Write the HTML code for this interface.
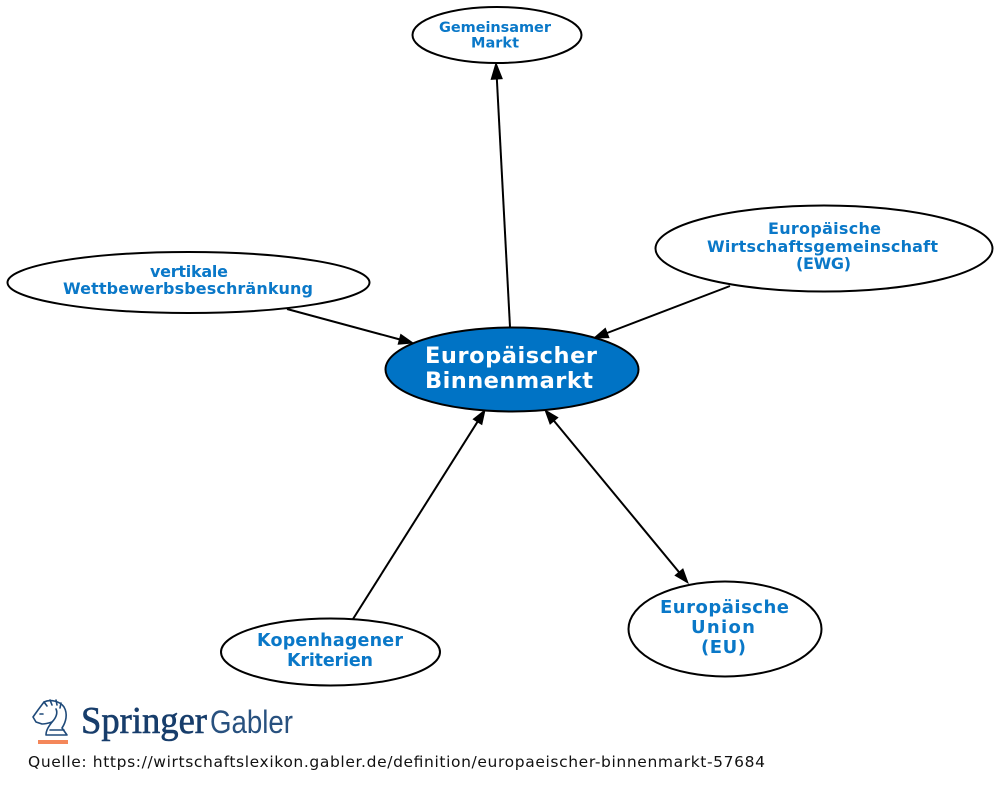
<!DOCTYPE html>
<html>
<head>
<meta charset="utf-8">
<style>
html,body{margin:0;padding:0;background:#fff;}
svg{display:block;}
.n{font-family:"DejaVu Sans","Liberation Sans",sans-serif;font-weight:bold;fill:#0a78c8;text-anchor:middle;}
</style>
</head>
<body>
<svg width="1000" height="791" viewBox="0 0 1000 791" xmlns="http://www.w3.org/2000/svg">
<rect width="1000" height="791" fill="#fff"/>

<!-- edges -->
<g stroke="#000" stroke-width="2" fill="none">
  <line x1="510" y1="327" x2="496.8" y2="78"/>
  <line x1="730" y1="286" x2="607.1" y2="333"/>
  <line x1="287" y1="309" x2="399.5" y2="339.4"/>
  <line x1="353" y1="619" x2="477.5" y2="421.8"/>
  <line x1="553.9" y1="420.8" x2="679.1" y2="572.2"/>
</g>
<g fill="#000" stroke="#000" stroke-width="1">
  <polygon points="496,63 502.2,78.7 491.2,79.3"/>
  <polygon points="594,338 605.3,328.3 608.9,337.7"/>
  <polygon points="413,343 398.2,344.2 400.8,334.5"/>
  <polygon points="485,410 481.8,424.5 473.3,419.2"/>
  <polygon points="688,583 675.2,575.4 682.9,569.0"/>
  <polygon points="545,410 550.1,424.0 557.8,417.6"/>
</g>

<!-- nodes -->
<g stroke="#000" stroke-width="2">
  <ellipse cx="497" cy="35" rx="84.5" ry="28" fill="#fff"/>
  <ellipse cx="824" cy="248.5" rx="168.5" ry="43" fill="#fff"/>
  <ellipse cx="188.5" cy="282.5" rx="181" ry="30.5" fill="#fff"/>
  <ellipse cx="512" cy="369.5" rx="126.5" ry="42" fill="#0073c5"/>
  <ellipse cx="725" cy="629" rx="96.5" ry="47.5" fill="#fff"/>
  <ellipse cx="330.5" cy="652" rx="109.5" ry="33.5" fill="#fff"/>
</g>

<!-- labels -->
<text class="n" x="495" y="32" font-size="14.5" textLength="112" lengthAdjust="spacing">Gemeinsamer</text>
<text class="n" x="495" y="47.5" font-size="14.5" textLength="48" lengthAdjust="spacing">Markt</text>

<text class="n" x="824.5" y="234" font-size="16" textLength="113" lengthAdjust="spacing">Europäische</text>
<text class="n" x="822.5" y="252" font-size="16" textLength="231" lengthAdjust="spacing">Wirtschaftsgemeinschaft</text>
<text class="n" x="823.5" y="269" font-size="16" textLength="55" lengthAdjust="spacing">(EWG)</text>

<text class="n" x="189" y="277" font-size="16" textLength="78" lengthAdjust="spacing">vertikale</text>
<text class="n" x="188" y="294" font-size="16" textLength="250" lengthAdjust="spacing">Wettbewerbsbeschränkung</text>

<text class="n" x="511" y="363" font-size="22.5" style="fill:#fff" textLength="172" lengthAdjust="spacing">Europäischer</text>
<text class="n" x="509" y="388" font-size="22.5" style="fill:#fff" textLength="168" lengthAdjust="spacing">Binnenmarkt</text>

<text class="n" x="724.5" y="613" font-size="18" textLength="129" lengthAdjust="spacing">Europäische</text>
<text class="n" x="723" y="633" font-size="18" textLength="64" lengthAdjust="spacing">Union</text>
<text class="n" x="723.5" y="653" font-size="18" textLength="45" lengthAdjust="spacing">(EU)</text>

<text class="n" x="330" y="646" font-size="17.5" textLength="146" lengthAdjust="spacing">Kopenhagener</text>
<text class="n" x="330" y="666" font-size="17.5" textLength="86" lengthAdjust="spacing">Kriterien</text>

<!-- Springer Gabler logo -->
<g fill="none" stroke="#1f4a7a" stroke-width="1.6" stroke-linejoin="round" stroke-linecap="round">
  <path d="M44,702 C50,699 60,701 64,707 C68,714 66,722 62,728 L67,735 L46,735 C46,730 49,726 52,722 C49,723 45,724 42,724 L36,722 L33,717 L38,710 Z"/>
  <path d="M44,702 L47,706 M50,700 L52,705 M56,700 L57,705 M61,703 L60,708"/>
  <path d="M52,722 C56,718 58,713 56,709"/>
  <path d="M40,714 L43,714"/>
  <path d="M50,730 L64,730"/>
</g>
<rect x="38" y="740" width="30" height="4" fill="#f4875a"/>
<text x="81" y="733" font-family="Liberation Serif, serif" font-size="38" fill="#173d6b" textLength="126" lengthAdjust="spacingAndGlyphs" stroke="#173d6b" stroke-width="0.6">Springer</text>
<text x="210" y="733" font-family="Liberation Sans, sans-serif" font-size="32" fill="#28517f" textLength="83" lengthAdjust="spacingAndGlyphs">Gabler</text>

<text x="28" y="767" font-family="DejaVu Sans, Liberation Sans, sans-serif" font-size="15.5" fill="#111" textLength="737" lengthAdjust="spacing">Quelle: https://wirtschaftslexikon.gabler.de/definition/europaeischer-binnenmarkt-57684</text>
</svg>
</body>
</html>
